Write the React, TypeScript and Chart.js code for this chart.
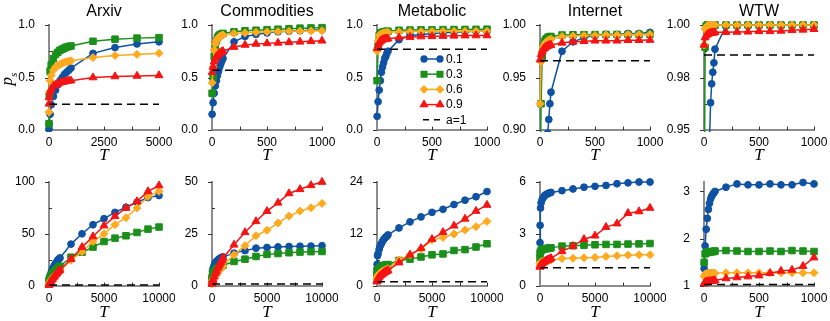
import React, { useEffect, useRef } from 'react';
import { Chart, registerables } from 'chart.js';
import { drawPoint } from 'chart.js/helpers';

Chart.register(...registerables);

// ---------- data ----------
const titles = ['Arxiv', 'Commodities', 'Metabolic', 'Internet', 'WTW'];
const seriesLabels = ['0.1', '0.3', '0.6', '0.9'];
const dashLabel = 'a=1';

const T1000 = [1, 10, 20, 30, 40, 50, 60, 70, 80, 90, 100, 200, 300, 400, 500, 600, 700, 800, 900, 1000];
const T5000 = [1, 10, 50, 100, 200, 300, 400, 500, 600, 700, 800, 900, 1000, 2000, 3000, 4000, 5000];
const T10000 = [1, 10, 50, 100, 200, 300, 400, 500, 600, 700, 800, 900, 1000, 2000, 3000, 4000, 5000, 6000, 7000, 8000, 9000, 10000];

// row 1: p_s
const arxivPs01 = [0.01, 0.06, 0.15, 0.24, 0.32, 0.38, 0.43, 0.47, 0.5, 0.53, 0.55, 0.57, 0.59, 0.73, 0.785, 0.82, 0.84];
const arxivPs03 = [0.06, 0.32, 0.56, 0.62, 0.68, 0.72, 0.74, 0.76, 0.77, 0.78, 0.79, 0.795, 0.8, 0.845, 0.865, 0.875, 0.88];
const arxivPs06 = [0.17, 0.36, 0.47, 0.52, 0.57, 0.6, 0.615, 0.625, 0.635, 0.645, 0.65, 0.655, 0.66, 0.69, 0.71, 0.72, 0.73];
const arxivPs09 = [0.25, 0.31, 0.36, 0.39, 0.42, 0.43, 0.44, 0.45, 0.455, 0.46, 0.465, 0.47, 0.47, 0.5, 0.51, 0.515, 0.52];
const arxivPsA1 = 0.245;

const commPs01 = [0.15, 0.26, 0.35, 0.42, 0.47, 0.52, 0.56, 0.6, 0.63, 0.66, 0.68, 0.84, 0.89, 0.91, 0.925, 0.935, 0.94, 0.945, 0.95, 0.955];
const commPs03 = [0.35, 0.5, 0.7, 0.8, 0.85, 0.88, 0.895, 0.905, 0.91, 0.915, 0.92, 0.935, 0.945, 0.95, 0.955, 0.96, 0.965, 0.97, 0.972, 0.975];
const commPs06 = [0.45, 0.6, 0.76, 0.82, 0.85, 0.87, 0.88, 0.89, 0.895, 0.9, 0.905, 0.92, 0.925, 0.93, 0.935, 0.937, 0.94, 0.942, 0.944, 0.945];
const commPs09 = [0.55, 0.6, 0.65, 0.68, 0.7, 0.71, 0.72, 0.73, 0.74, 0.745, 0.75, 0.79, 0.81, 0.82, 0.825, 0.83, 0.835, 0.84, 0.845, 0.85];
const commPsA1 = 0.57;

const metaPs01 = [0.13, 0.27, 0.38, 0.47, 0.55, 0.6, 0.64, 0.68, 0.7, 0.73, 0.75, 0.86, 0.9, 0.91, 0.92, 0.925, 0.93, 0.935, 0.94, 0.94];
const metaPs03 = [0.47, 0.8, 0.9, 0.92, 0.925, 0.93, 0.935, 0.937, 0.938, 0.94, 0.94, 0.95, 0.952, 0.954, 0.955, 0.956, 0.957, 0.958, 0.959, 0.96];
const metaPs06 = [0.75, 0.85, 0.9, 0.91, 0.915, 0.92, 0.922, 0.925, 0.927, 0.928, 0.93, 0.935, 0.937, 0.938, 0.939, 0.94, 0.94, 0.94, 0.94, 0.94];
const metaPs09 = [0.78, 0.8, 0.83, 0.845, 0.855, 0.86, 0.863, 0.866, 0.868, 0.87, 0.87, 0.88, 0.885, 0.89, 0.892, 0.895, 0.897, 0.899, 0.9, 0.9];
const metaPsA1 = 0.77;

const inetPs01 = [0.7, 0.75, 0.8, 0.83, 0.85, 0.87, 0.885, 0.897, 0.91, 0.925, 0.936, 0.975, 0.984, 0.988, 0.99, 0.991, 0.991, 0.992, 0.992, 0.993];
const inetPs03 = [0.85, 0.925, 0.97, 0.98, 0.984, 0.986, 0.987, 0.988, 0.9885, 0.989, 0.989, 0.9905, 0.9907, 0.9908, 0.9909, 0.991, 0.991, 0.991, 0.991, 0.9912];
const inetPs06 = [0.925, 0.965, 0.975, 0.979, 0.981, 0.983, 0.984, 0.985, 0.9855, 0.986, 0.9865, 0.989, 0.9895, 0.99, 0.99, 0.9905, 0.9905, 0.991, 0.991, 0.991];
const inetPs09 = [0.967, 0.972, 0.975, 0.977, 0.978, 0.979, 0.9795, 0.98, 0.9805, 0.981, 0.981, 0.983, 0.984, 0.9845, 0.985, 0.985, 0.985, 0.9855, 0.9855, 0.9857];
const inetPsA1 = 0.966;

const wtwPs01 = [0.9, 0.91, 0.92, 0.93, 0.94, 0.945, 0.963, 0.972, 0.9775, 0.982, 0.9885, 0.9998, 1.0, 1.0, 1.0, 1.0, 1.0, 1.0, 1.0, 1.0];
const wtwPs03 = [0.9, 0.9894, 0.9995, 1.0, 1.0, 1.0, 1.0, 1.0, 1.0, 1.0, 1.0, 1.0, 1.0, 1.0, 1.0, 1.0, 1.0, 1.0, 1.0, 1.0];
const wtwPs06 = [0.9905, 0.998, 0.999, 0.9995, 1.0, 1.0, 1.0, 1.0, 1.0, 1.0, 1.0, 1.0, 1.0, 1.0, 1.0, 1.0, 1.0, 1.0, 1.0, 1.0];
const wtwPs09 = [0.9905, 0.994, 0.995, 0.9955, 0.9958, 0.996, 0.9961, 0.9962, 0.9963, 0.9964, 0.9965, 0.9966, 0.9967, 0.9968, 0.997, 0.997, 0.9972, 0.9975, 0.9977, 0.998];
const wtwPsA1 = 0.9857;

// row 2: mean s
const arxivS01 = [0, 3, 8, 10, 13, 16, 18, 20, 22, 23, 25, 26, 27, 40.3, 50.2, 58.9, 64.7, 70.8, 75.7, 80.5, 85, 87];
const arxivS03 = [4, 5, 7, 8, 10, 11.5, 13, 14, 15, 16, 17, 18, 19, 27.7, 32.5, 37.4, 42.8, 46, 48.3, 51.5, 54.7, 56.7];
const arxivS06 = [1.5, 2, 3, 4, 5.5, 7, 8.5, 10, 11, 12, 13, 14, 15, 24.8, 33, 42.7, 50.2, 59, 65.7, 75, 86, 91];
const arxivS09 = [1, 1.5, 2.5, 3.5, 5, 6.5, 8, 9.5, 11, 12, 13.5, 14.5, 15.5, 25.8, 37.4, 47.6, 58, 67, 75, 81.4, 91, 96.6];
const arxivSA1 = 1;

const commS01 = [2, 4, 7, 8.5, 10, 11, 11.8, 12.3, 12.8, 13.2, 13.5, 13.8, 14, 15.8, 17, 18.2, 18.5, 18.8, 19, 19.1, 19.2, 19.4];
const commS03 = [3, 4, 5.5, 6.2, 7, 7.6, 8.1, 8.5, 8.9, 9.2, 9.5, 9.8, 10, 11.8, 12.9, 14.2, 15.2, 15.6, 16, 16.3, 16.5, 16.6];
const commS06 = [1, 1.5, 2.5, 3, 4, 4.8, 5.6, 6.3, 7, 7.7, 8.4, 9, 9.7, 15, 19.4, 24.2, 26.8, 30.3, 33.6, 36, 37.6, 39.7];
const commS09 = [1, 1.5, 2.5, 3, 4.5, 6, 7, 8.5, 9.5, 10.5, 11.5, 12.5, 13.5, 19.8, 25.8, 31.1, 36, 40, 44.5, 46.5, 48.4, 50];
const commSA1 = 1;

const metaS01 = [4, 5, 7, 7.5, 8.5, 9.3, 9.8, 10.3, 10.7, 11, 11.3, 11.5, 11.8, 13.4, 14.8, 15.95, 17, 17.7, 18.8, 19.8, 20.6, 21.8];
const metaS03 = [2.5, 3, 3.5, 3.8, 4.1, 4.3, 4.5, 4.6, 4.7, 4.8, 4.85, 4.9, 4.95, 5.9, 6.2, 6.7, 7.2, 7.4, 8.2, 8.4, 9.0, 9.75];
const metaS06 = [1.5, 1.8, 2.2, 2.5, 2.8, 3, 3.2, 3.4, 3.5, 3.6, 3.7, 3.8, 4, 6, 7.2, 8.5, 10.6, 11.2, 12, 12.9, 13.7, 14.9];
const metaS09 = [1, 1.2, 1.5, 1.8, 2.1, 2.4, 2.6, 2.8, 3, 3.2, 3.3, 3.4, 3.6, 5.4, 7.2, 8.7, 10.8, 12.4, 13.9, 15.5, 17.3, 18.7];
const metaSA1 = 1;

const inetS01 = [2.5, 3.5, 4.5, 4.8, 5.0, 5.1, 5.2, 5.25, 5.3, 5.32, 5.35, 5.38, 5.4, 5.5, 5.6, 5.7, 5.75, 5.8, 5.9, 5.95, 6.0, 6.0];
const inetS03 = [1.6, 1.9, 2.0, 2.05, 2.1, 2.12, 2.14, 2.15, 2.16, 2.17, 2.18, 2.19, 2.2, 2.3, 2.32, 2.35, 2.38, 2.4, 2.4, 2.42, 2.43, 2.45];
const inetS06 = [1.2, 1.3, 1.35, 1.38, 1.4, 1.42, 1.44, 1.45, 1.46, 1.47, 1.48, 1.49, 1.5, 1.58, 1.6, 1.63, 1.65, 1.7, 1.75, 1.78, 1.8, 1.8];
const inetS09 = [1.1, 1.15, 1.2, 1.25, 1.3, 1.35, 1.4, 1.45, 1.48, 1.5, 1.53, 1.56, 1.6, 2.0, 2.3, 2.7, 2.9, 3.4, 3.6, 4.2, 4.3, 4.5];
const inetSA1 = 1.05;

const wtwS01 = [1.37, 1.85, 2.2, 2.43, 2.62, 2.75, 2.84, 2.9, 2.94, 2.97, 3.0, 3.09, 3.16, 3.14, 3.14, 3.16, 3.14, 3.14, 3.19, 3.16];
const wtwS03 = [1.5, 1.68, 1.7, 1.71, 1.72, 1.72, 1.72, 1.73, 1.73, 1.73, 1.74, 1.75, 1.74, 1.73, 1.73, 1.74, 1.73, 1.75, 1.74, 1.73];
const wtwS06 = [1.2, 1.25, 1.26, 1.26, 1.27, 1.27, 1.27, 1.27, 1.27, 1.27, 1.27, 1.28, 1.28, 1.28, 1.28, 1.28, 1.28, 1.28, 1.28, 1.28];
const wtwS09 = [1.05, 1.08, 1.09, 1.09, 1.1, 1.1, 1.1, 1.1, 1.11, 1.11, 1.12, 1.16, 1.18, 1.2, 1.22, 1.27, 1.32, 1.34, 1.42, 1.6];
const wtwSA1 = 1.03;

// axes ticks
const xTicks1000 = [0, 500, 1000];
const xMinor1000 = [250, 750];
const xTicks5000 = [0, 2500, 5000];
const xMinor5000 = [1250, 3750];
const xTicks10000 = [0, 5000, 10000];
const xMinor10000 = [2500, 7500];

const yTicksUnit = [0, 0.5, 1.0];
const yLabelsUnit = ['0.0', '0.5', '1.0'];
const yMinorUnit = [0.25, 0.75];
const yTicksInet = [0.9, 0.95, 1.0];
const yLabelsInet = ['0.90', '0.95', '1.00'];
const yMinorInet = [0.925, 0.975];
const yTicksWtw = [0.95, 0.975, 1.0];
const yLabelsWtw = ['0.95', '0.98', '1.00'];
const yMinorWtw = [0.9625, 0.9875];

const yTicksArxivS = [0, 50, 100];
const yMinorArxivS = [25, 75];
const yTicksCommS = [0, 25, 50];
const yMinorCommS = [12.5, 37.5];
const yTicksMetaS = [0, 12, 24];
const yMinorMetaS = [6, 18];
const yTicksInetS = [0, 3, 6];
const yMinorInetS = [1.5, 4.5];
const yTicksWtwS = [1, 2, 3];
const yMinorWtwS = [1.5, 2.5];

// ---------- style ----------
const COLORS = ['#0f52a3', '#1b8f1b', '#ffa91e', '#f51414'];
const STYLES = ['circle', 'rect', 'rectRot', 'triangle'];
const RADII = [3.4, 4.6, 4.0, 4.6];
const COL_LEFT = [49, 212, 377, 540, 704];
const PLOT_W = 110;
const Y_AXIS_W = 45;
const PAD_R = 16;
const SANS = '"Liberation Sans", Arial, sans-serif';
const SERIF = '"Liberation Serif", "Times New Roman", serif';

type Spec = {
  title: string;
  row: number;
  col: number;
  xs: number[];
  series: number[][];
  dash: number;
  xMax: number;
  xMajor: number[];
  xMinor: number[];
  yMin: number;
  yMax: number;
  yMajor: number[];
  yLabels: string[] | null;
  yMinor: number[];
  legend: boolean;
};

const specs: Spec[] = [
  { title: titles[0], row: 0, col: 0, xs: T5000, series: [arxivPs01, arxivPs03, arxivPs06, arxivPs09], dash: arxivPsA1, xMax: 5000, xMajor: xTicks5000, xMinor: xMinor5000, yMin: 0, yMax: 1, yMajor: yTicksUnit, yLabels: yLabelsUnit, yMinor: yMinorUnit, legend: false },
  { title: titles[1], row: 0, col: 1, xs: T1000, series: [commPs01, commPs03, commPs06, commPs09], dash: commPsA1, xMax: 1000, xMajor: xTicks1000, xMinor: xMinor1000, yMin: 0, yMax: 1, yMajor: yTicksUnit, yLabels: yLabelsUnit, yMinor: yMinorUnit, legend: false },
  { title: titles[2], row: 0, col: 2, xs: T1000, series: [metaPs01, metaPs03, metaPs06, metaPs09], dash: metaPsA1, xMax: 1000, xMajor: xTicks1000, xMinor: xMinor1000, yMin: 0, yMax: 1, yMajor: yTicksUnit, yLabels: yLabelsUnit, yMinor: yMinorUnit, legend: true },
  { title: titles[3], row: 0, col: 3, xs: T1000, series: [inetPs01, inetPs03, inetPs06, inetPs09], dash: inetPsA1, xMax: 1000, xMajor: xTicks1000, xMinor: xMinor1000, yMin: 0.9, yMax: 1, yMajor: yTicksInet, yLabels: yLabelsInet, yMinor: yMinorInet, legend: false },
  { title: titles[4], row: 0, col: 4, xs: T1000, series: [wtwPs01, wtwPs03, wtwPs06, wtwPs09], dash: wtwPsA1, xMax: 1000, xMajor: xTicks1000, xMinor: xMinor1000, yMin: 0.95, yMax: 1, yMajor: yTicksWtw, yLabels: yLabelsWtw, yMinor: yMinorWtw, legend: false },
  { title: '', row: 1, col: 0, xs: T10000, series: [arxivS01, arxivS03, arxivS06, arxivS09], dash: arxivSA1, xMax: 10000, xMajor: xTicks10000, xMinor: xMinor10000, yMin: 0, yMax: 100, yMajor: yTicksArxivS, yLabels: null, yMinor: yMinorArxivS, legend: false },
  { title: '', row: 1, col: 1, xs: T10000, series: [commS01, commS03, commS06, commS09], dash: commSA1, xMax: 10000, xMajor: xTicks10000, xMinor: xMinor10000, yMin: 0, yMax: 50, yMajor: yTicksCommS, yLabels: null, yMinor: yMinorCommS, legend: false },
  { title: '', row: 1, col: 2, xs: T10000, series: [metaS01, metaS03, metaS06, metaS09], dash: metaSA1, xMax: 10000, xMajor: xTicks10000, xMinor: xMinor10000, yMin: 0, yMax: 24, yMajor: yTicksMetaS, yLabels: null, yMinor: yMinorMetaS, legend: false },
  { title: '', row: 1, col: 3, xs: T10000, series: [inetS01, inetS03, inetS06, inetS09], dash: inetSA1, xMax: 10000, xMajor: xTicks10000, xMinor: xMinor10000, yMin: 0, yMax: 6, yMajor: yTicksInetS, yLabels: null, yMinor: yMinorInetS, legend: false },
  { title: '', row: 1, col: 4, xs: T1000, series: [wtwS01, wtwS03, wtwS06, wtwS09], dash: wtwSA1, xMax: 1000, xMajor: xTicks1000, xMinor: xMinor1000, yMin: 1, yMax: 3.2, yMajor: yTicksWtwS, yLabels: null, yMinor: yMinorWtwS, legend: false },
];

// row geometry: canvas top, canvas height, plot top (in canvas), x-axis block height
const ROWS = [
  { top: 0, height: 165, padTop: 25, xH: 35, xLabelY: 156 },
  { top: 160, height: 161, padTop: 22, xH: 35, xLabelY: 153 },
];

const near = (a: number, b: number) => Math.abs(a - b) < 1e-9;

function Panel({ spec }: { spec: Spec }) {
  const ref = useRef<HTMLCanvasElement | null>(null);
  const row = ROWS[spec.row];
  const left = COL_LEFT[spec.col] - Y_AXIS_W;
  const width = Y_AXIS_W + PLOT_W + PAD_R;

  useEffect(() => {
    const canvas = ref.current;
    if (!canvas) return;
    const datasets: any[] = spec.series.map((vals, i) => ({
      label: seriesLabels[i],
      data: spec.xs.map((x, j) => ({ x, y: vals[j] })),
      borderColor: COLORS[i],
      backgroundColor: COLORS[i],
      pointBackgroundColor: COLORS[i],
      pointBorderColor: COLORS[i],
      pointStyle: STYLES[i],
      pointRadius: RADII[i],
      pointBorderWidth: 1,
      borderWidth: 1.5,
      tension: 0,
      order: 4 - i,
      clip: { left: 6, right: 6, top: 6, bottom: 2 },
    }));
    datasets.push({
      label: dashLabel,
      data: [
        { x: 0, y: spec.dash },
        { x: spec.xMax, y: spec.dash },
      ],
      borderColor: '#000',
      borderWidth: 1.5,
      borderDash: [8, 5],
      pointRadius: 0,
      order: 0,
      clip: 2,
    });

    const deco = {
      id: 'deco',
      beforeDatasetsDraw(chart: any) {
        const { ctx, chartArea: ca, scales } = chart;
        const xs = scales.x;
        const ys = scales.y;
        ctx.save();
        ctx.strokeStyle = '#333';
        ctx.lineWidth = 1;
        ctx.beginPath();
        for (const v of spec.yMajor) {
          const p = Math.round(ys.getPixelForValue(v)) + 0.5;
          ctx.moveTo(ca.left - 4, p);
          ctx.lineTo(ca.left, p);
        }
        for (const v of spec.yMinor) {
          const p = Math.round(ys.getPixelForValue(v)) + 0.5;
          ctx.moveTo(ca.left, p);
          ctx.lineTo(ca.left + 3, p);
        }
        for (const v of [...spec.xMajor, ...spec.xMinor]) {
          if (v === 0) continue;
          const p = Math.round(xs.getPixelForValue(v)) + 0.5;
          ctx.moveTo(p, ca.bottom);
          ctx.lineTo(p, ca.bottom - 3.5);
        }
        ctx.stroke();
        ctx.restore();
      },
      afterDraw(chart: any) {
        const { ctx, chartArea: ca } = chart;
        const mid = (ca.left + ca.right) / 2;
        ctx.save();
        ctx.fillStyle = '#000';
        // title
        if (spec.title) {
          ctx.font = `16px ${SANS}`;
          ctx.textAlign = 'center';
          ctx.textBaseline = 'alphabetic';
          ctx.fillText(spec.title, mid, 16);
        }
        // x label
        ctx.font = `italic 17px ${SERIF}`;
        ctx.textAlign = 'center';
        ctx.textBaseline = 'middle';
        ctx.fillText('T', mid, row.xLabelY);
        // y label
        if (spec.col === 0) {
          ctx.save();
          if (spec.row === 0) {
            ctx.translate(12 - left, 79);
            ctx.rotate(-Math.PI / 2);
            ctx.textBaseline = 'alphabetic';
            ctx.textAlign = 'left';
            ctx.font = `italic 17px ${SERIF}`;
            const wp = ctx.measureText('p').width;
            ctx.font = `italic 11px ${SERIF}`;
            const ws = ctx.measureText('s').width;
            const x0 = -(wp + ws) / 2;
            ctx.font = `italic 17px ${SERIF}`;
            ctx.fillText('p', x0, 0);
            ctx.font = `italic 11px ${SERIF}`;
            ctx.fillText('s', x0 + wp, 5);
          } else {
            ctx.translate(15 - left, 233);
            ctx.rotate(-Math.PI / 2);
            ctx.textBaseline = 'alphabetic';
            ctx.textAlign = 'center';
            ctx.font = `italic 17px ${SERIF}`;
            ctx.fillText('s', 0, 0);
            ctx.strokeStyle = '#000';
            ctx.lineWidth = 1.2;
            ctx.beginPath();
            ctx.moveTo(-5, -12.5);
            ctx.lineTo(6, -12.5);
            ctx.stroke();
          }
          ctx.restore();
        }
        // legend
        if (spec.legend) {
          const lx0 = ca.left + 47;
          const lx1 = ca.left + 63;
          const tx = ca.left + 69;
          for (let i = 0; i < 5; i++) {
            const y = ca.top + 34 + 15.2 * i;
            ctx.save();
            if (i < 4) {
              ctx.strokeStyle = COLORS[i];
              ctx.fillStyle = COLORS[i];
              ctx.lineWidth = 1.5;
              ctx.beginPath();
              ctx.moveTo(lx0, y);
              ctx.lineTo(lx1, y);
              ctx.stroke();
              const opts = { pointStyle: STYLES[i], radius: RADII[i] * 0.85, borderWidth: 1, rotation: 0 };
              drawPoint(ctx, opts as any, lx0, y);
              drawPoint(ctx, opts as any, lx1, y);
            } else {
              ctx.strokeStyle = '#000';
              ctx.lineWidth = 1.5;
              ctx.setLineDash([6, 5]);
              ctx.beginPath();
              ctx.moveTo(lx0 - 1, y);
              ctx.lineTo(lx1 + 1, y);
              ctx.stroke();
            }
            ctx.restore();
            ctx.fillStyle = '#000';
            ctx.font = `12px ${SANS}`;
            ctx.textAlign = 'left';
            ctx.textBaseline = 'middle';
            ctx.fillText(i < 4 ? seriesLabels[i] : dashLabel, tx, y + 0.5);
          }
        }
        ctx.restore();
      },
    };

    const labelFor = (vals: number[], labels: string[] | null) => (value: number) => {
      const idx = vals.findIndex((v) => near(v, value));
      if (idx < 0) return '';
      return labels ? labels[idx] : String(vals[idx]);
    };

    const chart = new Chart(canvas, {
      type: 'line',
      data: { datasets },
      plugins: [deco],
      options: {
        animation: false,
        responsive: false,
        events: [],
        layout: { padding: { left: 0, right: PAD_R, top: row.padTop, bottom: 0 } },
        plugins: { legend: { display: false }, tooltip: { enabled: false }, title: { display: false } },
        scales: {
          x: {
            type: 'linear',
            min: 0,
            max: spec.xMax,
            grid: { display: false },
            border: { display: true, color: '#8c8c8c', width: 2 },
            ticks: {
              autoSkip: false,
              maxRotation: 0,
              minRotation: 0,
              padding: -3,
              color: '#000',
              font: { family: SANS, size: 12 },
              callback: labelFor(spec.xMajor, null) as any,
            },
            afterBuildTicks: (s: any) => {
              s.ticks = [...spec.xMajor, ...spec.xMinor].sort((a, b) => a - b).map((v) => ({ value: v }));
            },
            afterFit: (s: any) => {
              s.height = row.xH;
            },
          },
          y: {
            type: 'linear',
            min: spec.yMin,
            max: spec.yMax,
            grid: { display: false },
            border: { display: true, color: '#8c8c8c', width: 2 },
            ticks: {
              autoSkip: false,
              padding: 6,
              color: '#000',
              font: { family: SANS, size: 12 },
              callback: labelFor(spec.yMajor, spec.yLabels) as any,
            },
            afterBuildTicks: (s: any) => {
              s.ticks = [...spec.yMajor, ...spec.yMinor].sort((a, b) => a - b).map((v) => ({ value: v }));
            },
            afterFit: (s: any) => {
              s.width = Y_AXIS_W;
            },
          },
        },
      } as any,
    });
    return () => chart.destroy();
  }, [spec]);

  return (
    <canvas
      ref={ref}
      width={width}
      height={row.height}
      style={{ position: 'absolute', left, top: row.top, width, height: row.height }}
    />
  );
}

export default function App() {
  useEffect(() => {
    document.body.style.margin = '0';
    document.body.style.background = '#fff';
  }, []);
  return (
    <div style={{ position: 'relative', width: 830, height: 321, overflow: 'hidden', background: '#fff' }}>
      {specs.map((s, i) => (
        <Panel key={i} spec={s} />
      ))}
    </div>
  );
}
